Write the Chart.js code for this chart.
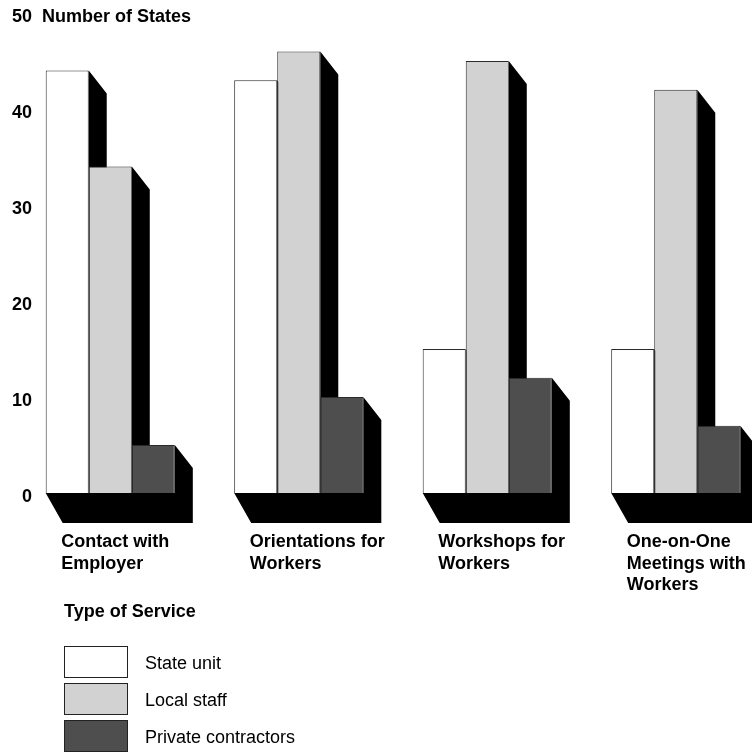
<!DOCTYPE html>
<html lang="en">
<head>
  <meta charset="UTF-8">
  <title>Type of Service by Number of States</title>
  <script src="https://cdn.jsdelivr.net/npm/chart.js"></script>
  <style>
    html, body { margin: 0; padding: 0; overflow: hidden; background: #ffffff; }
    #wrap { width: 786px; height: 754px; }
  </style>
</head>
<body>
  <div id="wrap"><canvas id="serviceChart" width="786" height="754"></canvas></div>
  <script>
    // categories (split into label lines) and number of states per provider
    const categories = [
      ['Contact with', 'Employer'],
      ['Orientations for', 'Workers'],
      ['Workshops for', 'Workers'],
      ['One-on-One', 'Meetings with', 'Workers']
    ];
    const stateUnit = [44, 43, 15, 15];
    const localStaff = [34, 46, 45, 42];
    const privateContractors = [5, 10, 12, 7];
    const yTicks = [0, 10, 20, 30, 40, 50];

    const FONT = '"Liberation Sans", Arial, Helvetica, sans-serif';

    // black extruded side + floor behind each bar
    const depthPlugin = {
      id: 'depth',
      beforeDatasetsDraw(chart) {
        const ctx = chart.ctx;
        ctx.save();
        ctx.fillStyle = '#000000';
        chart.data.datasets.forEach((ds, i) => {
          chart.getDatasetMeta(i).data.forEach(bar => {
            const l = bar.x - bar.width / 2;
            const r = bar.x + bar.width / 2;
            ctx.beginPath();
            ctx.moveTo(l, bar.base);
            ctx.lineTo(l + 17, bar.base + 30);
            ctx.lineTo(r + 18, bar.base + 30);
            ctx.lineTo(r + 18, bar.y + 23);
            ctx.lineTo(r, bar.y);
            ctx.lineTo(r, bar.base);
            ctx.closePath();
            ctx.fill();
          });
        });
        ctx.restore();
      }
    };

    // y tick numbers, axis title and the vertical legend
    const labelsPlugin = {
      id: 'labels',
      afterDraw(chart) {
        const ctx = chart.ctx;
        const y = chart.scales.y;
        ctx.save();
        ctx.fillStyle = '#000000';
        ctx.textBaseline = 'alphabetic';
        ctx.font = 'bold 18px ' + FONT;
        ctx.textAlign = 'right';
        yTicks.forEach(v => {
          ctx.fillText(String(v), 32, y.getPixelForValue(v) + 9);
        });
        ctx.textAlign = 'left';
        ctx.fillText('Number of States', 42, y.getPixelForValue(50) + 9);

        ctx.fillText('Type of Service', 64, 617);
        ctx.font = '18px ' + FONT;
        chart.data.datasets.forEach((ds, i) => {
          const top = 646 + i * 37;
          ctx.fillStyle = ds.backgroundColor;
          ctx.fillRect(64, top, 64, 31);
          ctx.strokeStyle = '#222222';
          ctx.lineWidth = 1;
          ctx.strokeRect(64.5, top + 0.5, 63, 31);
          ctx.fillStyle = '#000000';
          ctx.fillText(ds.label, 145, top + 23);
        });
        ctx.restore();
      }
    };

    const ctx = document.getElementById('serviceChart').getContext('2d');
    const chart = new Chart(ctx, {
      type: 'bar',
      data: {
        labels: categories,
        datasets: [
          { label: 'State unit', data: stateUnit, backgroundColor: '#ffffff' },
          { label: 'Local staff', data: localStaff, backgroundColor: '#d2d2d2' },
          { label: 'Private contractors', data: privateContractors, backgroundColor: '#4e4e4e' }
        ]
      },
      options: {
        responsive: false,
        animation: false,
        events: [],
        layout: { padding: { left: 16, right: 16, top: 13, bottom: 160 } },
        datasets: {
          bar: {
            borderColor: '#2a2a2a',
            borderWidth: 1,
            categoryPercentage: 0.685,
            barPercentage: 1
          }
        },
        plugins: {
          legend: { display: false },
          tooltip: { enabled: false }
        },
        scales: {
          x: {
            offset: true,
            grid: { display: false, drawTicks: false },
            border: { display: false },
            // labels hang to the right of each group; don't let them shrink the plot
            afterFit(scale) {
              scale.paddingLeft = 0;
              scale.paddingRight = 0;
              scale.height = 101;
            },
            ticks: {
              autoSkip: false,
              maxRotation: 0,
              align: 'start',
              labelOffset: -49,
              padding: 39,
              color: '#000000',
              font: { family: FONT, size: 18, weight: 'bold', lineHeight: 1.17 }
            }
          },
          y: {
            min: 0,
            max: 50,
            grid: { display: false, drawTicks: false },
            border: { display: false },
            ticks: { display: false, stepSize: 10 }
          }
        }
      },
      plugins: [depthPlugin, labelsPlugin]
    });
  </script>
</body>
</html>
